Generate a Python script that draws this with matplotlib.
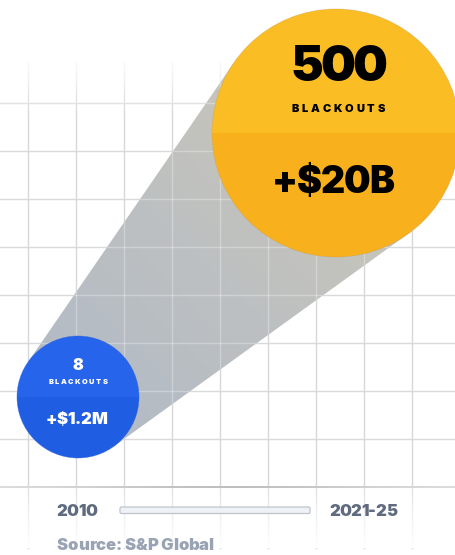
import numpy as np
import matplotlib
matplotlib.use("Agg")
import matplotlib.pyplot as plt
from matplotlib.patches import Circle, Polygon, Wedge, FancyBboxPatch
from matplotlib.colors import LinearSegmentedColormap

# data
periods = ["2010", "2021-25"]
blackouts = [8, 500]
costs = ["+$1.2M", "+$20B"]
source = "Source: S&P Global"

# layout (pixels)
W, H = 456, 555
c_small = (78, 397)
r_small = 61
c_big = (336, 133)
r_big = 124

plt.rcParams['font.family'] = ['Inter', 'DejaVu Sans']

fig = plt.figure(figsize=(W / 100, H / 100), dpi=100)
ax = fig.add_axes([0, 0, 1, 1])
ax.set_xlim(0, W)
ax.set_ylim(H, 0)
ax.axis("off")

# grid
xs = np.arange(28, 470, 48)
ys = np.arange(103, 490, 48)
for x in xs:
    ax.plot([x, x], [60, 548], color="#d6d7d9", lw=1, zorder=1)
for y in ys[:-1]:
    ax.plot([0, W], [y, y], color="#d9dadc", lw=1, zorder=1)

# fade the grid at top and bottom
white = np.ones((60, 1, 4))
white[:, 0, 3] = np.linspace(1, 0, 60)
ax.imshow(white, extent=(0, W, 118, 55), aspect="auto", zorder=2, interpolation="bilinear")
white2 = np.ones((60, 1, 4))
white2[:, 0, 3] = np.linspace(0.3, 1, 60)
ax.imshow(white2, extent=(0, W, 548, 488), aspect="auto", zorder=2, interpolation="bilinear")

# bottom line with darker middle
bl = np.ones((1, 200, 4))
prof = np.exp(-((np.linspace(0, 1, 200) - 0.5) / 0.35) ** 2)
g = 0.88 - 0.13 * prof
bl[0, :, 0] = g
bl[0, :, 1] = g
bl[0, :, 2] = g
ax.imshow(bl, extent=(0, W, 488.5, 486.5), aspect="auto", zorder=3, interpolation="bilinear")


# cone between the two circles (outer tangents)
def tangent_points(c1, r1, c2, r2):
    d = np.array(c2, float) - np.array(c1, float)
    L = np.hypot(*d)
    base = np.arctan2(d[1], d[0])
    th = np.arccos((r2 - r1) / L)
    pts = []
    for s in (1, -1):
        n = np.array([np.cos(base + s * th), np.sin(base + s * th)])
        pts.append((np.array(c1) - r1 * n, np.array(c2) - r2 * n))
    return pts


(a1, a2), (b1, b2) = tangent_points(c_small, r_small, c_big, r_big)
cone = Polygon([a1, a2, b2, b1], closed=True, facecolor="none", edgecolor="none")
ax.add_patch(cone)

gx, gy = np.meshgrid(np.linspace(0, W, 120), np.linspace(0, H, 140))
dvec = np.array(c_big) - np.array(c_small)
t = ((gx - c_small[0]) * dvec[0] + (gy - c_small[1]) * dvec[1]) / (dvec @ dvec)
t = np.clip(t, 0, 1)
cmap = LinearSegmentedColormap.from_list("cone", ["#b3bbc5", "#bdc0c1", "#c8c5ba"])
im = ax.imshow(t, cmap=cmap, extent=(0, W, H, 0), aspect="auto", zorder=4,
               interpolation="bilinear", vmin=0, vmax=1)
im.set_clip_path(cone)

# lighter grid over the cone
for x in xs:
    ln, = ax.plot([x, x], [60, 548], color="white", lw=1, alpha=0.3, zorder=5)
    ln.set_clip_path(cone)
for y in ys:
    ln, = ax.plot([0, W], [y, y], color="white", lw=1, alpha=0.3, zorder=5)
    ln.set_clip_path(cone)


# circles: top half / bottom half
def two_tone(c, r, top, bottom, edge):
    ax.add_patch(Wedge(c, r, 180, 360, facecolor=top, edgecolor="none", zorder=6))
    ax.add_patch(Wedge(c, r, 0, 180, facecolor=bottom, edgecolor="none", zorder=6))
    ax.add_patch(Circle(c, r, facecolor="none", edgecolor=edge, lw=0.5, alpha=0.5, zorder=7))


two_tone(c_small, r_small, "#2664eb", "#1f5de3", "#2a5fd6")
two_tone(c_big, r_big, "#fbbd24", "#f8b01c", "#c9a150")

renderer = fig.canvas.get_renderer()


def text_width(s, **kw):
    tt = ax.text(0, 0, s, **kw)
    w = tt.get_window_extent(renderer).width
    tt.remove()
    return w


def tracked(x, y, s, track, ha="center", **kw):
    total = text_width(s, **kw) + track * (len(s) - 1)
    x0 = x - total / 2 if ha == "center" else x
    for i, ch in enumerate(s):
        off = text_width(s[:i], **kw) if i else 0
        ax.text(x0 + off + track * i, y, ch, ha="left", va="center", **kw)


big = dict(color="black", fontweight="black", zorder=8)
tracked(c_big[0] + 3, 68, str(blackouts[1]), -3, fontsize=35.5, **big)
tracked(c_big[0] + 2, 109, "BLACKOUTS", 2.8, fontsize=8, **big)
tracked(c_big[0] - 3, 183, costs[1], -1.2, fontsize=27, **big)

sm = dict(color="white", fontweight="black", zorder=8)
ax.text(c_small[0], 365, str(blackouts[0]), ha="center", va="center", fontsize=11.5, **sm)
tracked(c_small[0], 382, "BLACKOUTS", 1.4, fontsize=5.3, **sm)
tracked(c_small[0] - 2, 419, costs[0], -0.3, fontsize=12, **sm)

# timeline
lab = dict(color="#5f6b7f", fontweight="black", fontsize=12, zorder=8)
tracked(77, 511, periods[0], -0.5, **lab)
tracked(363, 511, periods[1], -0.5, **lab)
ax.add_patch(FancyBboxPatch((120, 507), 190, 6.5, boxstyle="round,pad=0,rounding_size=1.5",
                            facecolor="#eef2f7", edgecolor="#bfc4cb", lw=0.9, zorder=8))

tracked(57, 545, source, -0.2, ha="left", color="#9aa3b4", fontweight="black",
        fontsize=12, zorder=8)

fig.savefig("out.png", dpi=100)
